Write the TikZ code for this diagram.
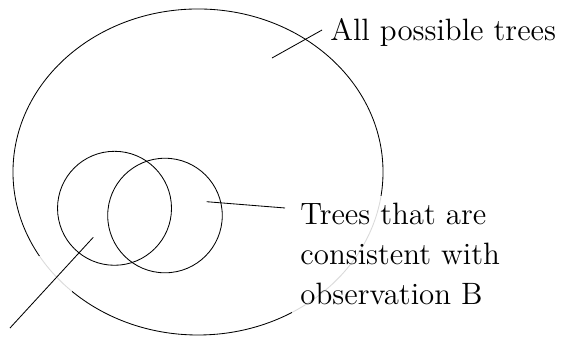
\documentclass[tikz,border=0pt]{standalone}
\usepackage{amsmath, amssymb}
\usepackage{xcolor}
\usepackage{tikz}
\usetikzlibrary{positioning, calc}

\tikzset{
    tag/.style={font=\fontsize{14.7pt}{19pt}\selectfont, inner sep=0pt, align=left},
    veil/.style={fill=white, fill opacity=0.85, draw=none},
}

\begin{document}
\begin{tikzpicture}[scale=1.0]

    \useasboundingbox (0,0) rectangle (9.398,-5.619);

    % ALL TREES: the big ellipse
    \draw (3.311,-2.876) ellipse [x radius=3.094cm, y radius=2.726cm];

    % TWO OBSERVATIONS: overlapping circles
    \draw (1.915,-3.483) circle (0.953cm);
    \draw (2.759,-3.604) circle (0.958cm);

    % veils behind the labels
    \fill[veil] (4.883,-3.278) rectangle (8.53,-5.234);
    \fill[veil] (0,-4.281) rectangle (1.204,-5.619);

    % LABEL: all possible trees
    \coordinate (allIn) at (4.548,-0.970);
    \coordinate (allOut) at (5.385,-0.502);
    \draw (allIn) -- (allOut);
    \node[tag, anchor=base west] (allText) at (5.518,-0.669)
        {All possible trees};

    % LABEL: observation B
    \coordinate (bIn) at (3.457,-3.373);
    \coordinate (bOut) at (4.766,-3.478);
    \draw (bIn) -- (bOut);
    \node[tag, anchor=base west] (bText) at (5.017,-5.097)
        {Trees that are\\ consistent with\\ observation B};

    % LABEL: observation A (off the page)
    \coordinate (aIn) at (1.560,-3.968);
    \coordinate (aOut) at (0.167,-5.485);
    \draw (aIn) -- (aOut);

\end{tikzpicture}
\end{document}
